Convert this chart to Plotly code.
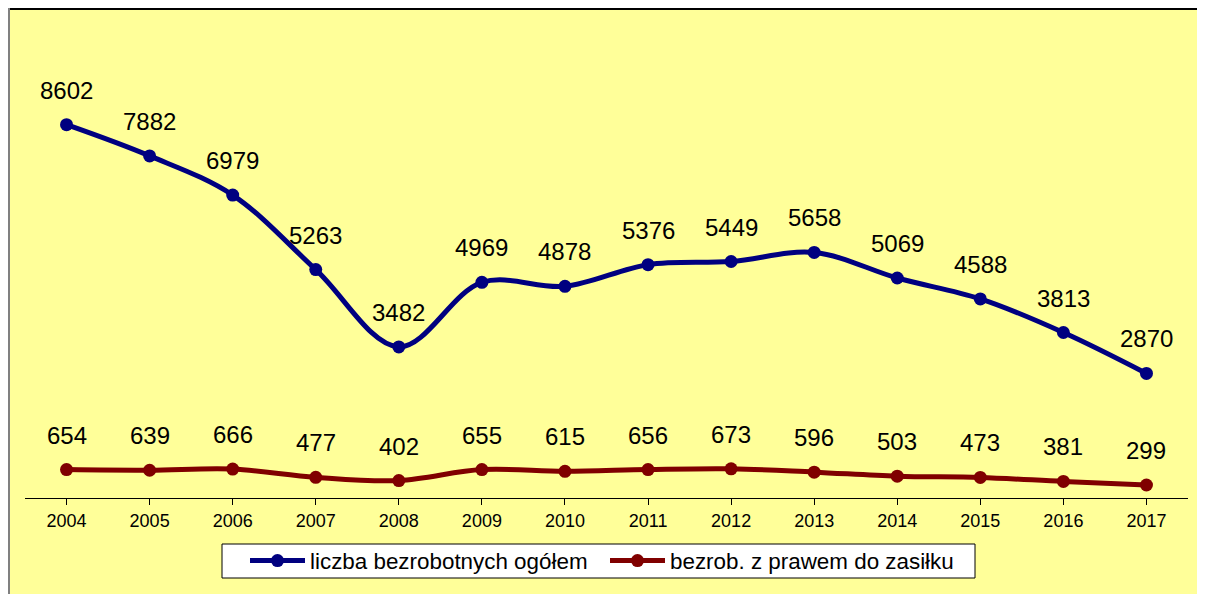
import plotly.graph_objects as go

years = ["2004", "2005", "2006", "2007", "2008", "2009", "2010", "2011",
         "2012", "2013", "2014", "2015", "2016", "2017"]
total = [8602, 7882, 6979, 5263, 3482, 4969, 4878, 5376, 5449, 5658, 5069, 4588, 3813, 2870]
benefit = [654, 639, 666, 477, 402, 655, 615, 656, 673, 596, 503, 473, 381, 299]
series_names = ["liczba bezrobotnych ogółem", "bezrob. z prawem do zasiłku"]

BG = "#FFFF99"
BLUE = "#000080"
RED = "#800000"
FONT = "Liberation Sans, Arial, sans-serif"

# figure is placed by the page at (8, 8)
FW, FH = 1197, 586
L, R, T, B = 17, 17, 56, 96
W = FW - L - R
H = FH - T - B

def px_x(p):
    return (p - L) / W

def px_y(p):
    return (FH - B - p) / H

fig = go.Figure()
for name, vals, col in [(series_names[0], total, BLUE), (series_names[1], benefit, RED)]:
    fig.add_trace(go.Scatter(
        x=years, y=vals, name=name, mode="lines+markers",
        line=dict(color=col, width=5, shape="spline", smoothing=1.0),
        marker=dict(color=col, size=13),
    ))
    for i, v in enumerate(vals):
        fig.add_annotation(x=i, y=v, xref="x", yref="y", text=str(v), showarrow=False,
                           yanchor="bottom", yshift=19,
                           font=dict(family=FONT, size=24, color="black"))

shapes = [
    # legend frame
    dict(type="rect", xref="paper", yref="paper", x0=px_x(214), x1=px_x(967),
         y0=px_y(570), y1=px_y(536), fillcolor="white",
         line=dict(color="black", width=1), layer="above"),
    # outer chart border (top and left)
    dict(type="line", xref="paper", yref="paper", x0=px_x(0), x1=px_x(FW),
         y0=px_y(1), y1=px_y(1), line=dict(color="black", width=2), layer="above"),
    dict(type="line", xref="paper", yref="paper", x0=px_x(1), x1=px_x(1),
         y0=px_y(0), y1=px_y(FH), line=dict(color="#808080", width=2), layer="above"),
]

fig.update_layout(
    width=FW, height=FH,
    margin=dict(l=L, r=R, t=T, b=B, autoexpand=False),
    paper_bgcolor=BG, plot_bgcolor=BG,
    font=dict(family=FONT, color="black"),
    showlegend=True,
    legend=dict(orientation="h", x=px_x(237), xanchor="left", xref="paper",
                y=1 - 553 / FH, yanchor="middle", yref="container",
                bgcolor="rgba(0,0,0,0)", borderwidth=0,
                font=dict(size=22.4, family=FONT), itemwidth=55,
                entrywidth=290),
    xaxis=dict(type="category", range=[-0.5, len(years) - 0.5],
               showgrid=False, zeroline=False,
               showline=True, linecolor="black", linewidth=1,
               ticks="outside", ticklen=6, tickcolor="black",
               tickfont=dict(size=18, family=FONT)),
    yaxis=dict(range=[0, 10000], visible=False, showgrid=False, zeroline=False),
    shapes=shapes,
)

fig.write_html("out.html")
